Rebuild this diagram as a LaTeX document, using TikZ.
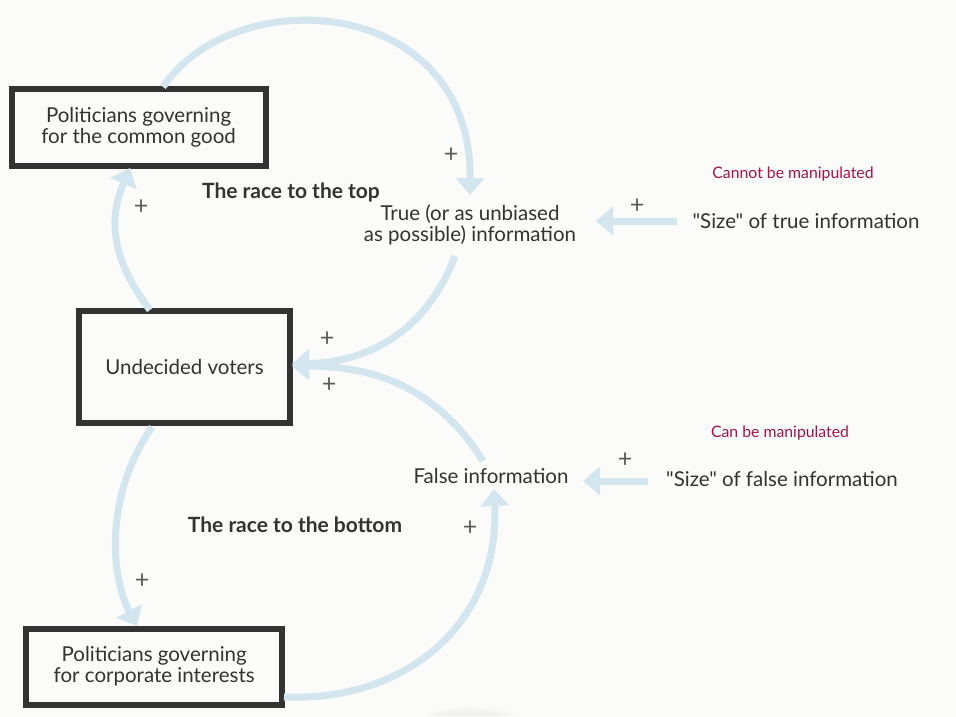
\documentclass[tikz,border=0pt]{standalone}
\usepackage{fontspec}
\setmainfont{Lato}
\newfontfamily\latoplain{Lato}
\usetikzlibrary{arrows.meta}
\definecolor{bgc}{HTML}{FBFBF9}
\definecolor{arr}{HTML}{D3E6F0}
\definecolor{txt}{HTML}{333333}
\definecolor{pls}{HTML}{5A5A5A}
\definecolor{redc}{HTML}{A8124A}
\tikzset{
  x=1pt, y=-1pt,
  stock/.style={draw=txt, line width=6pt, text=txt, align=center, font=\fontsize{20.5}{21}\selectfont, inner sep=0pt},
  lbl/.style={text=txt, align=center, font=\fontsize{20.5}{21}\selectfont, inner sep=0pt},
  ttl/.style={text=txt, font=\bfseries\fontsize{21}{21}\selectfont, inner sep=0pt},
  note/.style={text=redc, font=\fontsize{15.8}{16}\selectfont, inner sep=0pt},
  pl/.style={text=pls, font=\fontsize{25}{25}\selectfont, inner sep=0pt},
  link/.style={draw=arr, line width=7pt, -{Triangle[width=28pt,length=17pt]}},
}
\begin{document}
\begin{tikzpicture}
\fill[bgc] (0,0) rectangle (956,716);
\useasboundingbox (0,0) rectangle (956,716);
\shade[inner color=black!18, outer color=bgc] (470,735) ellipse (70 and 30);
\fill[bgc] (0,716) rectangle (956,760);

% stocks
\node[stock, minimum width=253.8pt, minimum height=77pt] (pg) at (138.6,127.5) {Politicians governing\\for the common good};
\node[stock, minimum width=211pt, minimum height=112pt] (uv) at (184.5,367) {Undecided voters};
\node[stock, minimum width=255.5pt, minimum height=76pt] (pc) at (154.2,666.5) {Politicians governing\\for corporate interests};

% variables
\node[lbl] (ti) at (470,225) {True (or as unbiased\\as possible) information};
\node[lbl] (fi) at (491,476) {False information};
\node[lbl] (st) at (806,221) {\latoplain "Size" of true information};
\node[lbl] (sf) at (782,479) {\latoplain "Size" of false information};
\node[note] (n1) at (793,174) {Cannot be manipulated};
\node[note] (n2) at (780,433) {Can be manipulated};
\node[ttl] (t1) at (291,192) {The race to the top};
\node[ttl] (t2) at (295,525) {The race to the bottom};

% anchor coordinates
\coordinate (a1s) at (163,87);
\coordinate (a1e) at (470,195);
\coordinate (a2s) at (150,310);
\coordinate (a2e) at (130,168);
\coordinate (a3s) at (455,256);
\coordinate (a3e) at (292,364);
\coordinate (a4s) at (483,461);
\coordinate (a4e) at (292,366);
\coordinate (a5s) at (152,427);
\coordinate (a5e) at (137,626);
\coordinate (a6s) at (284,697);
\coordinate (a6e) at (494,489);
\coordinate (a7s) at (677,221);
\coordinate (a7e) at (596,221);
\coordinate (a8s) at (648,481);
\coordinate (a8e) at (583,481);

% links
\draw[link] (a1s) .. controls (235,-20) and (472,-5) .. (a1e);
\draw[link] (a2s) .. controls (108,255) and (110,215) .. (a2e);
\draw[link] (a3s) .. controls (425,335) and (365,362) .. (a3e);
\draw[link] (a4s) .. controls (440,392) and (380,366) .. (a4e);
\draw[link] (a5s) .. controls (105,495) and (110,575) .. (a5e);
\draw[link] (a6s) .. controls (410,702) and (500,620) .. (a6e);
\draw[link] (a7s) -- (a7e);
\draw[link] (a8s) -- (a8e);

% polarity
\node[pl] (p1) at (451,155) {+};
\node[pl] (p2) at (141,207) {+};
\node[pl] (p3) at (327,339) {+};
\node[pl] (p4) at (329,385) {+};
\node[pl] (p5) at (142,581) {+};
\node[pl] (p6) at (470,528) {+};
\node[pl] (p7) at (637,206) {+};
\node[pl] (p8) at (625,460) {+};
\end{tikzpicture}
\end{document}
